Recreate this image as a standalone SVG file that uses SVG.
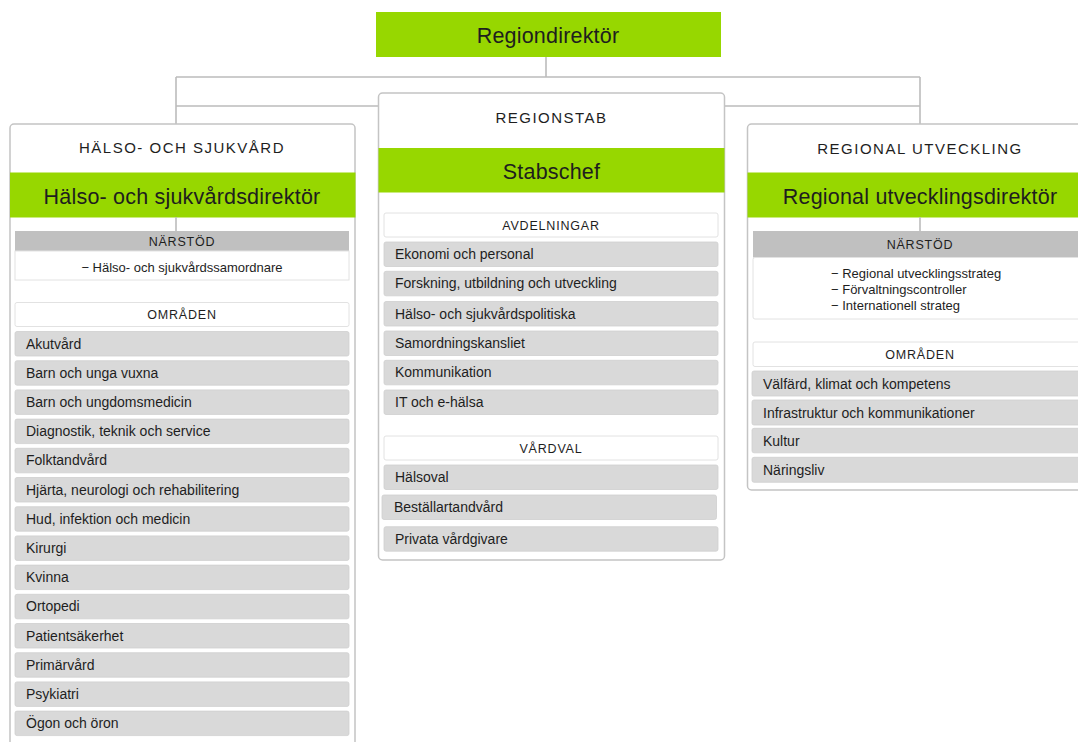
<svg xmlns="http://www.w3.org/2000/svg" width="1078" height="742" viewBox="0 0 1078 742">
<style>
text{font-family:"Liberation Sans",Arial,sans-serif;fill:#1e1e1e}
.outer{fill:#fff;stroke:#c4c4c4;stroke-width:1.5}
.green{fill:#97d700}
.gtxt{font-size:21.5px;text-anchor:middle;letter-spacing:0.2px}
.title{font-size:15px;text-anchor:middle;letter-spacing:1.5px}
.hdr{fill:#fff;stroke:#e2e2e2;stroke-width:1}
.htxt{font-size:12.5px;text-anchor:middle;letter-spacing:0.8px}
.gray{fill:#c0c0c0}
.item{fill:#d9d9d9;stroke:#cfcfcf;stroke-width:0.8}
.itxt{font-size:14px}
.ltxt{font-size:13px}
.conn{fill:none;stroke:#bcbcbc;stroke-width:1.6}
</style>
<g id="connectors">
<path class="conn" d="M546 57V77M176 77H920M176 77V124M920 77V124M176 106H378M725 106H920M176 217V231M920 217V231"/>
</g>
<g id="regiondirektor">
<rect class="green" x="376" y="12" width="345" height="45"/>
<text class="gtxt" x="548" y="42.5">Regiondirektör</text>
</g>
<g id="halso">
<rect class="outer" x="10" y="124" width="345" height="630" rx="4"/>
<text class="title" x="182" y="153">HÄLSO- OCH SJUKVÅRD</text>
<rect class="green" x="10" y="172.5" width="345.5" height="45"/>
<text class="gtxt" x="182" y="203.5">Hälso- och sjukvårdsdirektör</text>
<path class="conn" d="M176 217V231"/>
<rect class="gray" x="15" y="231" width="334" height="20"/>
<text class="htxt" x="182" y="245.5">NÄRSTÖD</text>
<rect class="hdr" x="15" y="251" width="334" height="29"/>
<text class="ltxt" x="182" y="272" text-anchor="middle">− Hälso- och sjukvårdssamordnare</text>
<rect class="hdr" x="15" y="302.5" width="334" height="24" rx="2"/>
<text class="htxt" x="182" y="319">OMRÅDEN</text>
<g id="halso-items">
<rect class="item" x="15" y="331.5" width="334" height="24.5" rx="2"/><text class="itxt" x="26" y="348.5">Akutvård</text>
<rect class="item" x="15" y="360.7" width="334" height="24.5" rx="2"/><text class="itxt" x="26" y="377.7">Barn och unga vuxna</text>
<rect class="item" x="15" y="389.9" width="334" height="24.5" rx="2"/><text class="itxt" x="26" y="406.9">Barn och ungdomsmedicin</text>
<rect class="item" x="15" y="419.1" width="334" height="24.5" rx="2"/><text class="itxt" x="26" y="436.1">Diagnostik, teknik och service</text>
<rect class="item" x="15" y="448.3" width="334" height="24.5" rx="2"/><text class="itxt" x="26" y="465.3">Folktandvård</text>
<rect class="item" x="15" y="477.5" width="334" height="24.5" rx="2"/><text class="itxt" x="26" y="494.5">Hjärta, neurologi och rehabilitering</text>
<rect class="item" x="15" y="506.7" width="334" height="24.5" rx="2"/><text class="itxt" x="26" y="523.7">Hud, infektion och medicin</text>
<rect class="item" x="15" y="535.9" width="334" height="24.5" rx="2"/><text class="itxt" x="26" y="552.9">Kirurgi</text>
<rect class="item" x="15" y="565.1" width="334" height="24.5" rx="2"/><text class="itxt" x="26" y="582.1">Kvinna</text>
<rect class="item" x="15" y="594.3" width="334" height="24.5" rx="2"/><text class="itxt" x="26" y="611.3">Ortopedi</text>
<rect class="item" x="15" y="623.5" width="334" height="24.5" rx="2"/><text class="itxt" x="26" y="640.5">Patientsäkerhet</text>
<rect class="item" x="15" y="652.7" width="334" height="24.5" rx="2"/><text class="itxt" x="26" y="669.7">Primärvård</text>
<rect class="item" x="15" y="681.9" width="334" height="24.5" rx="2"/><text class="itxt" x="26" y="698.9">Psykiatri</text>
<rect class="item" x="15" y="711.1" width="334" height="24.5" rx="2"/><text class="itxt" x="26" y="728.1">Ögon och öron</text>
</g>
</g>
<g id="regionstab">
<rect class="outer" x="378.5" y="93" width="346" height="467" rx="4"/>
<text class="title" x="551.5" y="123">REGIONSTAB</text>
<rect class="green" x="378.5" y="148" width="346" height="44.5"/>
<text class="gtxt" x="551.5" y="178.5">Stabschef</text>
<rect class="hdr" x="384" y="213" width="334" height="24" rx="2"/>
<text class="htxt" x="551" y="229.5">AVDELNINGAR</text>
<rect class="item" x="384" y="242" width="334" height="24.5" rx="2"/><text class="itxt" x="395" y="259">Ekonomi och personal</text>
<rect class="item" x="384" y="271.3" width="334" height="24.5" rx="2"/><text class="itxt" x="395" y="288.3">Forskning, utbildning och utveckling</text>
<rect class="item" x="384" y="301.5" width="334" height="24.5" rx="2"/><text class="itxt" x="395" y="318.5">Hälso- och sjukvårdspolitiska</text>
<rect class="item" x="384" y="331" width="334" height="24.5" rx="2"/><text class="itxt" x="395" y="348">Samordningskansliet</text>
<rect class="item" x="384" y="360.3" width="334" height="24.5" rx="2"/><text class="itxt" x="395" y="377.3">Kommunikation</text>
<rect class="item" x="384" y="390" width="334" height="24.5" rx="2"/><text class="itxt" x="395" y="407">IT och e-hälsa</text>
<rect class="hdr" x="384" y="436" width="334" height="24" rx="2"/>
<text class="htxt" x="551" y="452.5">VÅRDVAL</text>
<rect class="item" x="384" y="465" width="334" height="24.5" rx="2"/><text class="itxt" x="395" y="482">Hälsoval</text>
<rect class="item" x="382" y="495" width="334.5" height="24.5" rx="2"/><text class="itxt" x="394" y="512">Beställartandvård</text>
<rect class="item" x="384" y="526.7" width="334" height="24.5" rx="2"/><text class="itxt" x="395" y="543.7">Privata vårdgivare</text>
</g>
<g id="regional-utveckling">
<rect class="outer" x="747.5" y="124" width="346" height="366" rx="4"/>
<text class="title" x="920" y="153.5">REGIONAL UTVECKLING</text>
<rect class="green" x="747.5" y="172.5" width="346" height="45"/>
<text class="gtxt" x="920" y="203.5">Regional utvecklingsdirektör</text>
<path class="conn" d="M920 217V231"/>
<rect class="gray" x="753" y="231" width="334" height="26.5"/>
<text class="htxt" x="920" y="248.5">NÄRSTÖD</text>
<rect class="hdr" x="753" y="257.5" width="334" height="61.5" rx="2"/>
<text class="ltxt" x="831" y="277.5">− Regional utvecklingsstrateg</text>
<text class="ltxt" x="831" y="293.8">− Förvaltningscontroller</text>
<text class="ltxt" x="831" y="309.5">− Internationell strateg</text>
<rect class="hdr" x="753" y="342" width="334" height="24.5" rx="2"/>
<text class="htxt" x="920" y="358.8">OMRÅDEN</text>
<rect class="item" x="752" y="371" width="334" height="25" rx="2"/><text class="itxt" x="763" y="388.5">Välfärd, klimat och kompetens</text>
<rect class="item" x="752" y="400" width="334" height="25" rx="2"/><text class="itxt" x="763" y="417.5">Infrastruktur och kommunikationer</text>
<rect class="item" x="752" y="428.3" width="334" height="24.5" rx="2"/><text class="itxt" x="763" y="445.5">Kultur</text>
<rect class="item" x="752" y="457.3" width="334" height="25" rx="2"/><text class="itxt" x="763" y="474.8">Näringsliv</text>
</g>
</svg>
